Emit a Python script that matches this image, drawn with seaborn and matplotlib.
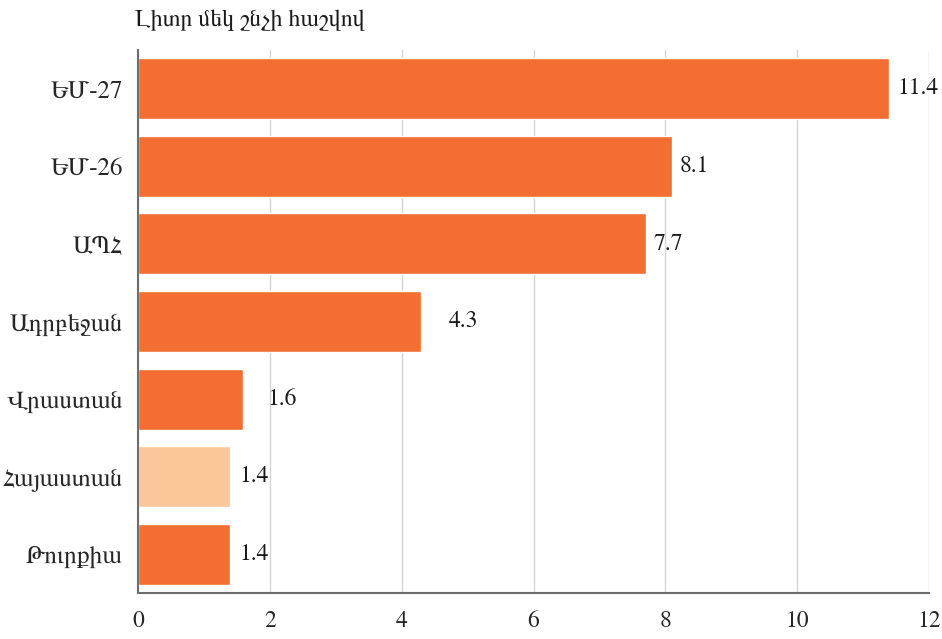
import matplotlib
matplotlib.use("Agg")
import matplotlib.pyplot as plt
import seaborn as sns
import numpy as np

# ======================
# Data
# ======================
CATEGORIES = ["ԵՄ-27", "ԵՄ-26", "ԱՊՀ", "Ադրբեջան", "Վրաստան", "Հայաստան", "Թուրքիա"]
VALUES = [11.4, 8.1, 7.7, 4.3, 1.6, 1.4, 1.4]
X_TICKS = [0, 2, 4, 6, 8, 10, 12]
TITLE = "Լիտր մեկ շնչի հաշվով"

# label gaps (px) as in the original layout
LABEL_GAP_PX = [8, 8, 8, 27, 24, 9, 9]

ORANGE = "#F26E33"
LIGHT = "#FCC69B"
PALETTE = {c: (LIGHT if c == "Հայաստան" else ORANGE) for c in CATEGORIES}

# ======================
# Style
# ======================
sns.set_style("white")
plt.rcParams["font.family"] = ["FreeSerif", "DejaVu Serif"]

fig = plt.figure(figsize=(9.42, 6.39), dpi=100)
ax = fig.add_axes([138 / 942, 46 / 639, (929 - 138) / 942, (593 - 50) / 639])

sns.barplot(x=VALUES, y=CATEGORIES, hue=CATEGORIES, palette=PALETTE,
            orient="h", width=0.785, legend=False, ax=ax, saturation=1)

# value labels
for cont, gap in zip(ax.containers, LABEL_GAP_PX):
    ax.bar_label(cont, fmt="%.1f", padding=gap * 0.72, fontsize=17, color="#1a1a1a")

# x axis
ax.set_xlim(0, 12)
ax.set_xticks(X_TICKS)
ax.set_xticklabels([str(t) for t in X_TICKS], fontsize=17)
ax.tick_params(axis="x", direction="in", length=5, width=1.2, color="#6e6e6e", pad=13)
ax.xaxis.grid(True, color="#d4d4d4", linewidth=1)
ax.set_axisbelow(True)

# y axis: labels at centers, ticks at boundaries
ax.set_ylim(len(CATEGORIES) - 0.5, -0.5)
ax.set_yticks(np.arange(len(CATEGORIES)))
ax.set_yticklabels(CATEGORIES, fontsize=18)
ax.tick_params(axis="y", which="major", length=0, pad=11)
ax.set_yticks(np.arange(len(CATEGORIES) + 1) - 0.5, minor=True)
ax.tick_params(axis="y", which="minor", direction="in", length=5, width=1.2, color="#6e6e6e")

ax.set_xlabel("")
ax.set_ylabel("")

for s in ["top", "right"]:
    ax.spines[s].set_visible(False)
for s in ["left", "bottom"]:
    ax.spines[s].set_color("#6e6e6e")
    ax.spines[s].set_linewidth(1.5)

fig.text(135 / 942, 1 - 20 / 639, TITLE, fontsize=17, ha="left", va="center", color="#1a1a1a")

fig.savefig("out.png", dpi=100)
plt.close(fig)
